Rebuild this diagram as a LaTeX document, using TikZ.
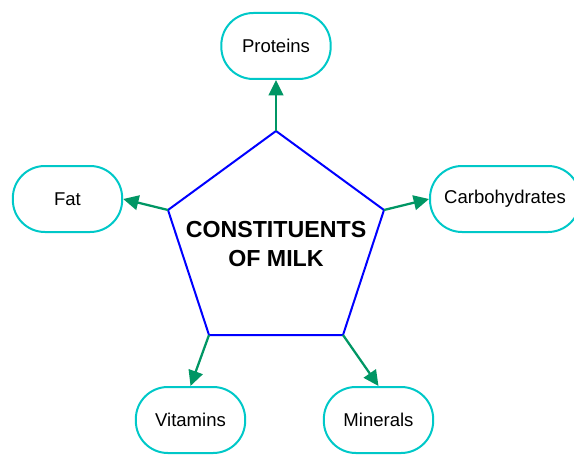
\documentclass[tikz,border=0pt]{standalone}
\usepackage{fontspec}
\setmainfont{Liberation Sans}
\usetikzlibrary{arrows.meta}
\definecolor{boxcyan}{RGB}{0,200,200}
\definecolor{arrowgreen}{RGB}{0,150,100}
\tikzset{
	part/.style={draw=boxcyan,line width=1.5pt,rounded corners=24pt,minimum width=82pt,minimum height=49.5pt,font=\fontsize{13.9}{16}\selectfont},
	link/.style={draw=arrowgreen,line width=1.7pt,-{Triangle[length=11.5pt,width=11pt]}}
}
\begin{document}
\begin{tikzpicture}[x=0.75pt,y=-0.75pt]
			\useasboundingbox (0,0) rectangle (574,456);
			\coordinate (c1) at (276,131);
			\coordinate (c2) at (168,210);
			\coordinate (c3) at (209,335);
			\coordinate (c4) at (343,335);
			\coordinate (c5) at (384,210);
			\draw [blue,line width=1.5pt,line join=miter] (c1) -- (c2) -- (c3) -- (c4) -- (c5) -- cycle;
			\node (milk) [align=center,font=\fontsize{17.4}{21.75}\selectfont\bfseries] at (276,244) {CONSTITUENTS\\OF MILK};
			\node (proteins) [part] at (276,46) {Proteins};
			\node (fat) [part] at (67.5,199) {Fat};
			\node (carbs) [part,minimum width=112.5pt] at (505,199) {Carbohydrates};
			\node (vitamins) [part] at (190.5,420) {Vitamins};
			\node (minerals) [part] at (378.5,420) {Minerals};
			\draw [link] (c1) -- (proteins.south);
			\draw [link] (c2) -- (fat.east);
			\draw [link] (c5) -- (carbs.west);
			\draw [link] (c3) -- (vitamins.north);
			\draw [link] (c4) -- (minerals.north);
		\end{tikzpicture}
\end{document}
